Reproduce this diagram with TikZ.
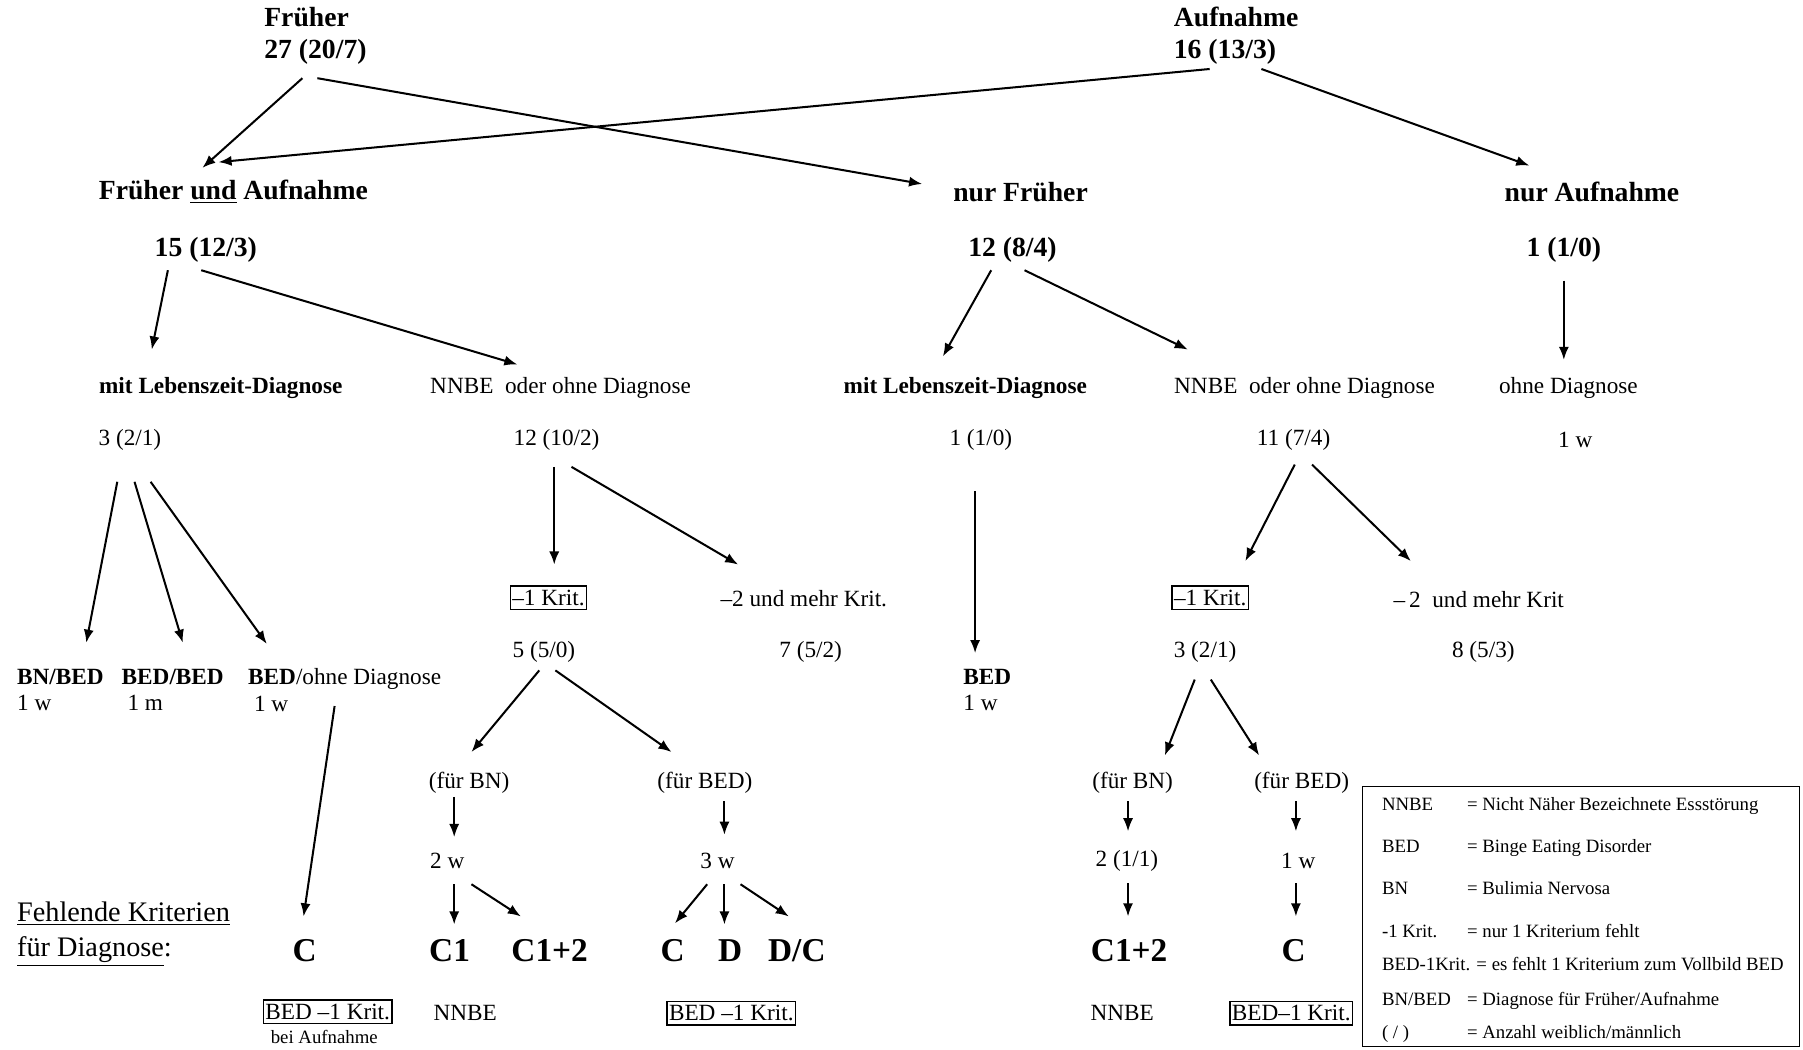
\documentclass[tikz,border=0pt]{standalone}
\usepackage{fontspec}
\setmainfont{Liberation Serif}
\usepackage{tikz}
\usetikzlibrary{arrows.meta,calc}
\tikzset{
    headnode/.style={
        inner sep=0pt,
        font=\fontsize{13.7}{16}\selectfont\bfseries
    },
    lbl/.style={
        inner sep=0pt,
        font=\fontsize{11.5}{13}\selectfont
    },
    boldlbl/.style={
        lbl,
        font=\fontsize{11.5}{13}\selectfont\bfseries
    },
    crit/.style={
        inner sep=0pt,
        font=\fontsize{16.5}{19}\selectfont\bfseries
    },
    boxed/.style={
        lbl,
        draw,
        line width=0.6pt,
        inner xsep=1pt,
        inner ysep=2pt
    },
    legend/.style={
        inner sep=0pt,
        anchor=base west,
        font=\fontsize{9.3}{11}\selectfont
    }
}

\begin{document}
\begin{tikzpicture}[x=0.02cm, y=-0.02cm, line width=1pt, >={Latex[length=6.5pt,width=5pt]}]
    \useasboundingbox (0,0) rectangle (1568,913);

    % top level
    \node (frueher) [headnode, align=left, anchor=west] at (229,31) {Früher\\27 (20/7)};
    \node (aufnahme) [headnode, align=left, anchor=west] at (1020,31) {Aufnahme\\16 (13/3)};

    \node (fua) [headnode] at (203,167) {Früher \underline{und} Aufnahme};
    \node (n15) [headnode] at (179,217) {15 (12/3)};
    \node (nurfr) [headnode] at (887.5,167) {nur Früher};
    \node (n12) [headnode] at (880.5,217) {12 (8/4)};
    \node (nuraf) [headnode] at (1384.5,167) {nur Aufnahme};
    \node (n1) [headnode] at (1360,217) {1 (1/0)};

    \draw [->] ($(frueher.west)+(34,37)$) -- ($(fua)+(-27,-21)$);
    \draw [->] ($(frueher.west)+(47,37)$) -- ($(nurfr)+(-85.5,-7)$);
    \draw [->] ($(aufnahme.west)+(32,29)$) -- ($(fua)+(-13,-26)$);
    \draw [->] ($(aufnahme.west)+(77,29)$) -- ($(nuraf)+(-54.5,-23)$);

    % second level
    \node (mitLa) [boldlbl] at (192,337) {mit Lebenszeit-Diagnose};
    \node (nnbeA) [lbl] at (487.5,337) {NNBE\ \ oder ohne Diagnose};
    \node (mitLb) [boldlbl] at (839.5,337) {mit Lebenszeit-Diagnose};
    \node (nnbeB) [lbl] at (1134.5,337) {NNBE\ \ oder ohne Diagnose};
    \node (ohneD) [lbl] at (1364,337) {ohne Diagnose};

    \node (c3) [lbl] at (113,383) {3 (2/1)};
    \node (c12) [lbl] at (484,383) {12 (10/2)};
    \node (c1) [lbl] at (853,383) {1 (1/0)};
    \node (c11) [lbl] at (1125,383) {11 (7/4)};
    \node (w1) [lbl] at (1370,383) {1 w};

    \draw [->] ($(n15)+(-33,18)$) -- ($(mitLa)+(-60,-33)$);
    \draw [->] ($(n15)+(-4,18)$) -- ($(nnbeA)+(-37.5,-20)$);
    \draw [->] ($(n12)+(-18.5,18)$) -- ($(mitLb)+(-19.5,-27)$);
    \draw [->] ($(n12)+(10.5,18)$) -- ($(nnbeB)+(-101.5,-33)$);
    \draw [->] ($(n1)+(0,27)$) -- ($(ohneD)+(-4,-24)$);

    % third level
    \node (bnbed) [lbl, align=left, anchor=west] at (14,600) {\textbf{BN/BED}\\1 w};
    \node (bedbed) [lbl, align=left, anchor=west] at (105,600) {\textbf{BED/BED}\\\ 1 m};
    \node (bedohne) [lbl, align=left, anchor=west] at (215,600) {\textbf{BED}/ohne Diagnose\\\ 1 w};
    \node (bedC) [lbl, align=left, anchor=west] at (837,600) {\textbf{BED}\\1 w};

    \node (kritA) [boxed] at (477,520) {--1 Krit.};
    \node (mehrA) [lbl] at (699,521) {--2 und mehr Krit.};
    \node (kritB) [boxed] at (1052.5,520) {--1 Krit.};
    \node (mehrB) [lbl] at (1286,521) {--\,2\ \ und mehr Krit};

    \node (c5) [lbl] at (473,567) {5 (5/0)};
    \node (c7) [lbl] at (705,567) {7 (5/2)};
    \node (c3b) [lbl] at (1048,567) {3 (2/1)};
    \node (c8) [lbl] at (1290,567) {8 (5/3)};

    \draw [->] ($(c3)+(-11,36)$) -- ($(bnbed.west)+(61,-41)$);
    \draw [->] ($(c3)+(4,36)$) -- ($(bedbed.west)+(54,-41)$);
    \draw [->] ($(c3)+(18,36)$) -- ($(bedohne.west)+(17,-40)$);
    \draw [->] ($(c12)+(-2,23)$) -- ($(kritA)+(5,-29)$);
    \draw [->] ($(c12)+(13,23)$) -- ($(mehrA)+(-57,-30)$);
    \draw [->] ($(c1)+(-5,44)$) -- ($(bedC.west)+(11,-32)$);
    \draw [->] ($(c11)+(1,21)$) -- ($(kritB)+(30.5,-32)$);
    \draw [->] ($(c11)+(16,21)$) -- ($(mehrB)+(-59,-33)$);

    % missing criteria
    \node (fbnA) [lbl] at (408,681) {(für BN)};
    \node (fbedA) [lbl] at (613,681) {(für BED)};
    \node (fbnB) [lbl] at (985,681) {(für BN)};
    \node (fbedB) [lbl] at (1132,681) {(für BED)};

    \node (w2) [lbl] at (389,749) {2 w};
    \node (w3) [lbl] at (624,749) {3 w};
    \node (c2) [lbl] at (980,749) {2 (1/1)};
    \node (w1b) [lbl] at (1129,749) {1 w};

    \node (fehlend) [inner sep=0pt, align=left, anchor=west, font=\fontsize{14}{17.6}\selectfont] at (14,812.5) {\underline{Fehlende Kriterien}\\\underline{für Diagnose}:};

    \node (kC) [crit] at (265,827) {C};
    \node (kC1) [crit] at (391,827) {C1};
    \node (kC12) [crit] at (478,827) {C1+2};
    \node (kCb) [crit] at (585,827) {C};
    \node (kD) [crit] at (635,827) {D};
    \node (kDC) [crit] at (693,827) {D/C};
    \node (kC12b) [crit] at (982,827) {C1+2};
    \node (kCc) [crit] at (1125,827) {C};

    \node (boxA) [boxed] at (285,880) {BED --1 Krit.};
    \node (beiauf) [legend, anchor=center] at (282,902) {bei Aufnahme};
    \node (nnbeC) [lbl] at (404.5,881) {NNBE};
    \node (boxB) [boxed] at (636,881) {BED --1 Krit.};
    \node (nnbeD) [lbl] at (976,881) {NNBE};
    \node (boxC) [boxed] at (1123,881) {BED--1 Krit.};

    \draw [->] ($(bedohne.west)+(76,14)$) -- ($(kC)+(-1,-30)$);
    \draw [->] ($(c5)+(-4,16)$) -- ($(fbnA)+(2,-27)$);
    \draw [->] ($(c5)+(10,16)$) -- ($(fbedA)+(-29,-27)$);
    \draw [->] ($(c3b)+(-9,24)$) -- ($(fbnB)+(28,-24)$);
    \draw [->] ($(c3b)+(5,24)$) -- ($(fbedB)+(-37,-24)$);
    \draw [->] ($(fbnA)+(-13,12)$) -- ($(w2)+(6,-21)$);
    \draw [->] ($(fbedA)+(17,16)$) -- ($(w3)+(6,-23)$);
    \draw [->] ($(fbnB)+(-4,16)$) -- ($(c2)+(1,-26)$);
    \draw [->] ($(fbedB)+(-5,16)$) -- ($(w1b)+(-2,-26)$);
    \draw [->] ($(w2)+(6,20)$) -- ($(kC1)+(4,-23)$);
    \draw [->] ($(w2)+(21,20)$) -- ($(kC12)+(-25,-30)$);
    \draw [->] ($(w3)+(-9,20)$) -- ($(kCb)+(2,-24)$);
    \draw [->] ($(w3)+(6,20)$) -- ($(kD)+(-5,-23)$);
    \draw [->] ($(w3)+(20,20)$) -- ($(kDC)+(-7,-30)$);
    \draw [->] ($(c2)+(1,19)$) -- ($(kC12b)+(-1,-30)$);
    \draw [->] ($(w1b)+(-2,19)$) -- ($(kCc)+(2,-30)$);

    % legend
    \draw [line width=0.8pt] (1185,684) rectangle (1565,910);
    \node [legend] at (1201,705) {NNBE};
    \node [legend] at (1275,705) {= Nicht Näher Bezeichnete Essstörung};
    \node [legend] at (1201,741) {BED};
    \node [legend] at (1275,741) {= Binge Eating Disorder};
    \node [legend] at (1201,777.5) {BN};
    \node [legend] at (1275,777.5) {= Bulimia Nervosa};
    \node [legend] at (1201,815) {-1 Krit.};
    \node [legend] at (1275,815) {= nur 1 Kriterium fehlt};
    \node [legend] at (1201,844) {BED-1Krit. = es fehlt 1 Kriterium zum Vollbild BED};
    \node [legend] at (1201,874) {BN/BED};
    \node [legend] at (1275,874) {= Diagnose für Früher/Aufnahme};
    \node [legend] at (1201,903) {( / )};
    \node [legend] at (1275,903) {= Anzahl weiblich/männlich};
\end{tikzpicture}
\end{document}
